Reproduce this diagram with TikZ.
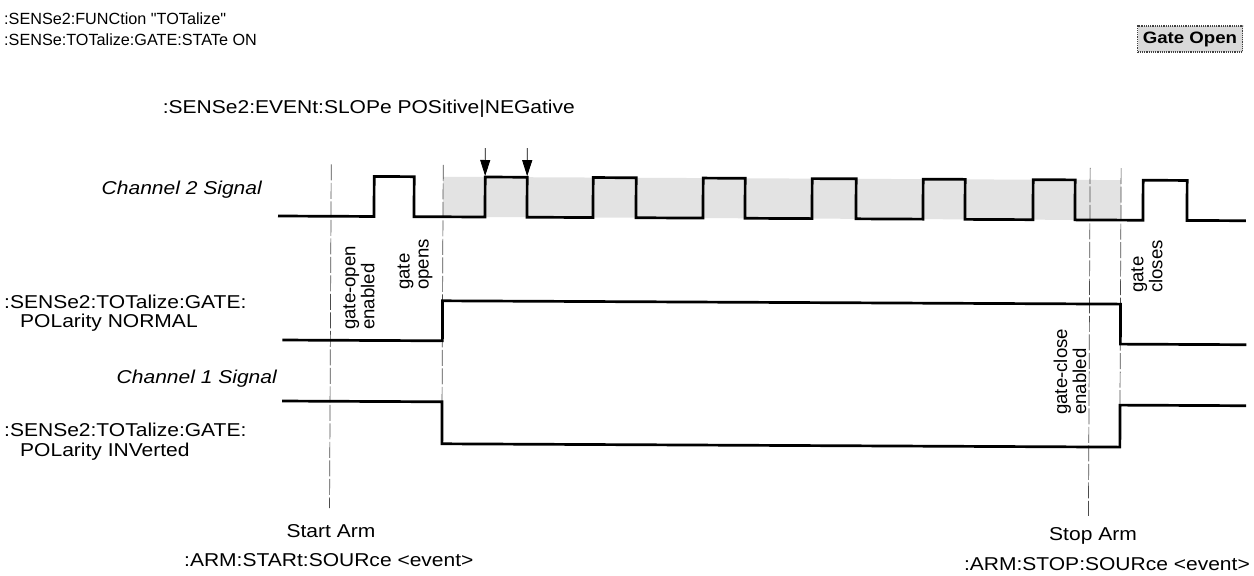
\documentclass[tikz,border=0pt]{standalone}
\usepackage{fontspec}
\setmainfont{Liberation Sans}[FakeStretch=1.13]
\newfontfamily\hdrfont{Liberation Sans}
\newfontfamily\rotfont{Liberation Sans}
\usetikzlibrary{arrows.meta}
\begin{document}
\begin{tikzpicture}[x=1pt,y=-1pt,
  lbl/.style={font=\fontsize{18.6}{21}\selectfont, inner sep=0pt},
  hdr/.style={font=\hdrfont\fontsize{16.2}{20}\selectfont, inner sep=0pt, anchor=base west},
  sig/.style={font=\fontsize{18.6}{21}\selectfont\itshape, inner sep=0pt, anchor=base east},
  rot/.style={font=\rotfont\fontsize{18.6}{19}\selectfont, rotate=90, anchor=west, align=left, inner sep=0pt},
  wave/.style={line width=2.7pt, line join=miter},
  guide/.style={line width=0.7pt, black!70, dash pattern=on 16pt off 2.5pt},
  markarrow/.style={line width=0.8pt, -{Triangle[width=10pt,length=16pt]}},
]
\useasboundingbox (0,0) rectangle (1254,576);

% header
\node[hdr] (h1) at (4,24) {:SENSe2:FUNCtion "TOTalize"};
\node[hdr] (h2) at (4,45) {:SENSe:TOTalize:GATE:STATe ON};
\node[draw=black!75, densely dotted, line width=1.2pt, fill=gray!30,
      font=\fontsize{16.5}{20}\selectfont\bfseries, minimum width=105pt, minimum height=26pt,
      inner sep=0pt] (gopen) at (1190,39) {Gate Open};

\node[lbl, anchor=base east] (slope) at (575,113) {:SENSe2:EVENt:SLOPe POSitive|NEGative};

\begin{scope}[rotate around={-0.28:(278,216)}]
  % shading of open gate
  \fill[gray!22] (443,176) rectangle (1121,216);
  % guide lines
  \coordinate (sa-top) at (331,164); \coordinate (sa-bot) at (331,508);
  \coordinate (go-top) at (443,164); \coordinate (go-bot) at (443,401);
  \coordinate (so-top) at (1090,164); \coordinate (so-bot) at (1090,512);
  \coordinate (gc-top) at (1121,164); \coordinate (gc-bot) at (1121,401);
  \draw[guide] (sa-top) -- (sa-bot);
  \draw[guide] (go-top) -- (go-bot);
  \draw[guide] (so-top) -- (so-bot);
  \draw[guide] (gc-top) -- (gc-bot);
  % channel 2 signal
  \draw[wave] (278,216) -- (374,216) |- (414,176) |- (485,216) |- (527,176) |- (593,216)
     |- (636,176) |- (703,216) |- (745,176) |- (812,216) |- (856,176) |- (923,216)
     |- (965,176) |- (1033,216) |- (1075,176) |- (1143,216) |- (1187,176) |- (1246,216);
  % gate, polarity normal
  \draw[wave] (283,340) -- (443,340) -- (443,300) -- (1121,300) -- (1121,340) -- (1247,340);
  % gate, polarity inverted
  \draw[wave] (283,401) -- (443,401) -- (443,443) -- (1121,443) -- (1121,401) -- (1247,401);
  % slope arrows
  \coordinate (a1s) at (485,147); \coordinate (a1e) at (485,175);
  \coordinate (a2s) at (527,147); \coordinate (a2e) at (527,175);
  \draw[markarrow] (a1s) -- (a1e);
  \draw[markarrow] (a2s) -- (a2e);
\end{scope}

% signal labels
\node[sig] (ch2) at (262,194) {Channel 2 Signal};
\node[sig] (ch1) at (277,383) {Channel 1 Signal};
\node[lbl, anchor=base west] (norm1) at (4,308) {:SENSe2:TOTalize:GATE:};
\node[lbl, anchor=base west] (norm2) at (20,327) {POLarity NORMAL};
\node[lbl, anchor=base west] (inv1) at (4,436) {:SENSe2:TOTalize:GATE:};
\node[lbl, anchor=base west] (inv2) at (20,456) {POLarity INVerted};

% event labels
\node[rot] (goe) at (359,330) {gate-open\\enabled};
\node[rot] (gop) at (415,290) {gate\\opens};
\node[rot] (gce) at (1070,415) {gate-close\\enabled};
\node[rot] (gcl) at (1147,293) {gate\\closes};

% arm labels
\node[lbl, anchor=base] (sarm) at (331,537) {Start Arm};
\node[lbl, anchor=base west] (ssrc) at (184,566) {:ARM:STARt:SOURce <event>};
\node[lbl, anchor=base] (tarm) at (1093,540) {Stop Arm};
\node[lbl, anchor=base east] (tsrc) at (1250,570) {:ARM:STOP:SOURce <event>};
\end{tikzpicture}
\end{document}
